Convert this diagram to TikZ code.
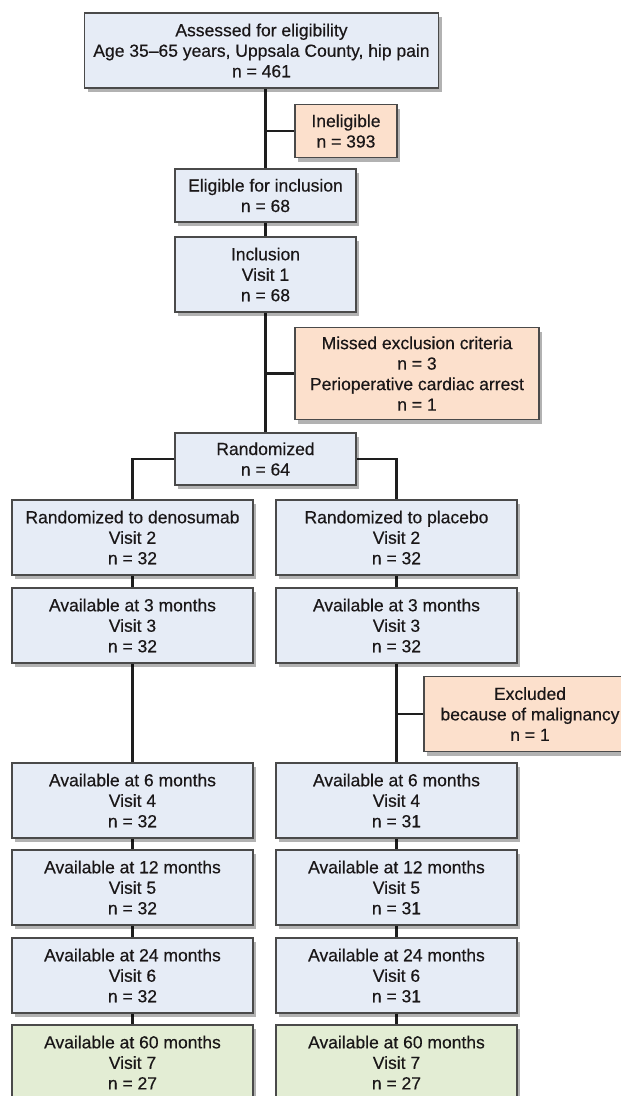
\documentclass[tikz,border=0pt]{standalone}
\usepackage{fontspec}
\setmainfont{Liberation Sans}[FakeBold=0.4]
\newfontface\medfont{Liberation Sans}[FakeBold=0.4]
\usetikzlibrary{shadows,backgrounds}
\definecolor{bluebox}{HTML}{E6ECF6}
\definecolor{orangebox}{HTML}{FCE0CC}
\definecolor{greenbox}{HTML}{E3EDD4}
\definecolor{boxline}{HTML}{4A4A4A}
\definecolor{txt}{HTML}{1A1718}
\definecolor{connline}{HTML}{1E1E1E}
\tikzset{
  box/.style={draw=boxline, line width=1.1pt, fill=bluebox, align=center,
    inner sep=0pt, text=txt, font=\medfont\fontsize{17.5}{20.5}\selectfont,
    drop shadow={shadow xshift=3pt, shadow yshift=-4pt, opacity=0.3, fill=black}},
  obox/.style={box, fill=orangebox},
  gbox/.style={box, fill=greenbox},
  colbox/.style={minimum width=241pt, minimum height=75pt},
  conn/.style={draw=connline, line width=2.5pt}
}
\begin{document}
\begin{tikzpicture}[x=1pt,y=-1pt]
\useasboundingbox (0,0) rectangle (621,1096);
\clip (0,0) rectangle (621,1096);

\node[box, minimum width=354pt, minimum height=75pt] (top) at (261.5,50.5)
  {Assessed for eligibility\\Age 35–65 years, Uppsala County, hip pain\\n = 461};
\node[obox, minimum width=102pt, minimum height=53pt] (inel) at (346,131)
  {Ineligible\\n = 393};
\node[box, minimum width=181pt, minimum height=53pt] (elig) at (265.5,195.5)
  {Eligible for inclusion\\n = 68};
\node[box, minimum width=181pt, minimum height=75pt] (incl) at (265.5,274.5)
  {Inclusion\\Visit 1\\n = 68};
\node[obox, minimum width=244pt, minimum height=92pt] (missed) at (417,373.5)
  {Missed exclusion criteria\\n = 3\\Perioperative cardiac arrest\\n = 1};
\node[box, minimum width=181pt, minimum height=52pt] (rand) at (265.5,459)
  {Randomized\\n = 64};

\node[box, colbox] (l2) at (132.5,537.5) {Randomized to denosumab\\Visit 2\\n = 32};
\node[box, colbox] (r2) at (396.5,537.5) {Randomized to placebo\\Visit 2\\n = 32};
\node[box, colbox] (l3) at (132.5,625.5) {Available at 3 months\\Visit 3\\n = 32};
\node[box, colbox] (r3) at (396.5,625.5) {Available at 3 months\\Visit 3\\n = 32};
\node[obox, minimum width=212pt, minimum height=75pt] (excl) at (530,714)
  {Excluded\\because of malignancy\\n = 1};
\node[box, colbox] (l4) at (132.5,800.5) {Available at 6 months\\Visit 4\\n = 32};
\node[box, colbox] (r4) at (396.5,800.5) {Available at 6 months\\Visit 4\\n = 31};
\node[box, colbox] (l5) at (132.5,887.5) {Available at 12 months\\Visit 5\\n = 32};
\node[box, colbox] (r5) at (396.5,887.5) {Available at 12 months\\Visit 5\\n = 31};
\node[box, colbox] (l6) at (132.5,975.5) {Available at 24 months\\Visit 6\\n = 32};
\node[box, colbox] (r6) at (396.5,975.5) {Available at 24 months\\Visit 6\\n = 31};
\node[gbox, colbox] (l7) at (132.5,1062.5) {Available at 60 months\\Visit 7\\n = 27};
\node[gbox, colbox] (r7) at (396.5,1062.5) {Available at 60 months\\Visit 7\\n = 27};

\begin{scope}[on background layer]
\draw[conn] (top.south -| elig.north) -- (elig.north);
\draw[conn] (inel.west) -- (inel.west -| elig.north);
\draw[conn] (elig.south) -- (incl.north);
\draw[conn] (incl.south) -- (rand.north);
\draw[conn] (missed.west) -- (missed.west -| incl.south);
\draw[conn] (rand.west) -| (l2.north);
\draw[conn] (rand.east) -| (r2.north);
\draw[conn] (l2.south) -- (l3.north);
\draw[conn] (r2.south) -- (r3.north);
\draw[conn] (l3.south) -- (l4.north);
\draw[conn] (r3.south) -- (r4.north);
\draw[conn] (excl.west) -- (excl.west -| r3.south);
\draw[conn] (l4.south) -- (l5.north);
\draw[conn] (r4.south) -- (r5.north);
\draw[conn] (l5.south) -- (l6.north);
\draw[conn] (r5.south) -- (r6.north);
\draw[conn] (l6.south) -- (l7.north);
\draw[conn] (r6.south) -- (r7.north);
\end{scope}
\end{tikzpicture}
\end{document}
